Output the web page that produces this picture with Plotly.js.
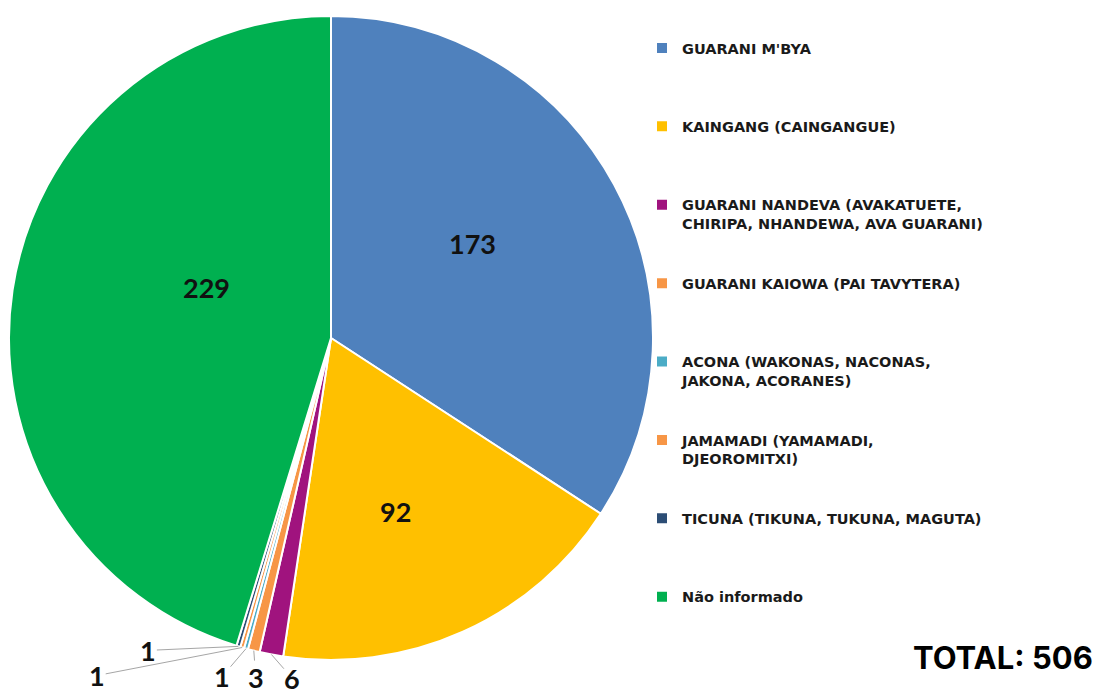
<!DOCTYPE html>
<html>
<head>
<meta charset="utf-8">
<script src="https://cdn.plot.ly/plotly-3.0.1.min.js"></script>
<style>html,body{margin:0;padding:0;background:#fff;}#chart{width:1098px;height:696px;}</style>
</head>
<body>
<div id="chart"></div>
<script>
// ---- data ----
var categories = [
  "GUARANI M'BYA",
  "KAINGANG (CAINGANGUE)",
  "GUARANI NANDEVA (AVAKATUETE,<br>CHIRIPA, NHANDEWA, AVA GUARANI)",
  "GUARANI KAIOWA (PAI TAVYTERA)",
  "ACONA (WAKONAS, NACONAS,<br>JAKONA, ACORANES)",
  "JAMAMADI (YAMAMADI,<br>DJEOROMITXI)",
  "TICUNA (TIKUNA, TUKUNA, MAGUTA)",
  "Não informado"
];
var values = [173, 92, 6, 3, 1, 1, 1, 229];
var totalLabel = "TOTAL: 506";

// ---- styling ----
var colors = ["#4F81BD", "#FFC000", "#A0137E", "#F79646", "#4BACC6", "#F79646", "#2C4D75", "#00B050"];
var W = 1098, H = 696;
var cx = 331, cy = 338, R = 322;          // pie geometry in pixels
var FONT = "Lato, 'Open Sans', sans-serif";
var LEGEND_FONT = "'DejaVu Sans', 'Open Sans', sans-serif";

// legend labels padded to 4 lines so every entry gets an equal slot
function pad(label) {
  var n = label.split("<br>").length;
  var s = label;
  for (var i = n; i < 4; i++) s += "<br>\u00A0";
  return s;
}
var legendLabels = categories.map(pad);

var total = values.reduce(function (a, b) { return a + b; }, 0);
var bigThreshold = 0.05;

// label placement (style): big slices -> [radius fraction, xshift, yshift]; small -> leader offsets
var bigPlace = {0: [0.5, 0, -18], 1: [0.6, -15, 16], 7: [0.5, 9, -27]};
var smallOffsets = {2: [21, 24], 3: [2, 27], 4: [-24, 28], 5: [-145, 28], 6: [-90, 4]};
var labelFont = {family: FONT, size: 27, color: "#111", weight: "bold"};

var annotations = [];
var cum = 0;
values.forEach(function (v, i) {
  var mid = (cum + v / 2) / total * 2 * Math.PI;
  cum += v;
  if (v / total > bigThreshold) {
    var p = bigPlace[i] || [0.5, 0, 0];
    var bx = cx + p[0] * R * Math.sin(mid);
    var by = cy - p[0] * R * Math.cos(mid);
    annotations.push({
      x: bx / W, y: 1 - by / H, xref: "paper", yref: "paper",
      xshift: p[1], yshift: -p[2],
      text: String(v), showarrow: false, font: labelFont
    });
    return;
  }
  var px = cx + R * Math.sin(mid);
  var py = cy - R * Math.cos(mid);
  var off = smallOffsets[i] || [0, 30];
  annotations.push({
    x: px / W, y: 1 - py / H, xref: "paper", yref: "paper",
    text: String(v), showarrow: true, arrowhead: 0, arrowwidth: 1, arrowcolor: "#A6A6A6",
    ax: off[0], ay: off[1], standoff: 0, borderpad: 0,
    font: labelFont
  });
});
annotations.push({
  x: 1095 / W, y: 1 - 657 / H, xref: "paper", yref: "paper", xanchor: "right", yanchor: "middle",
  text: totalLabel, showarrow: false,
  font: {family: "Inter, 'Open Sans', sans-serif", size: 31, color: "#000", weight: "bold"}
});

var trace = {
  type: "pie",
  labels: legendLabels,
  values: values,
  textinfo: "none",
  sort: false,
  direction: "clockwise",
  rotation: 0,
  marker: {colors: colors, line: {color: "#FFFFFF", width: 2}},
  domain: {x: [(cx - R) / W, (cx + R) / W], y: [1 - (cy + R) / H, 1 - (cy - R) / H]},
  hoverinfo: "label+value"
};

var layout = {
  width: W, height: H,
  margin: {l: 0, r: 0, t: 0, b: 0},
  paper_bgcolor: "#FFFFFF",
  showlegend: true,
  legend: {
    x: 642 / W, y: 1 - 32 / H, xanchor: "left", yanchor: "top",
    valign: "top", traceorder: "normal",
    font: {family: LEGEND_FONT, size: 14.5, color: "#1A1A1A", weight: "bold"},
    bgcolor: "rgba(0,0,0,0)"
  },
  annotations: annotations
};

Plotly.newPlot("chart", [trace], layout, {displayModeBar: false, staticPlot: true});
</script>
</body>
</html>
